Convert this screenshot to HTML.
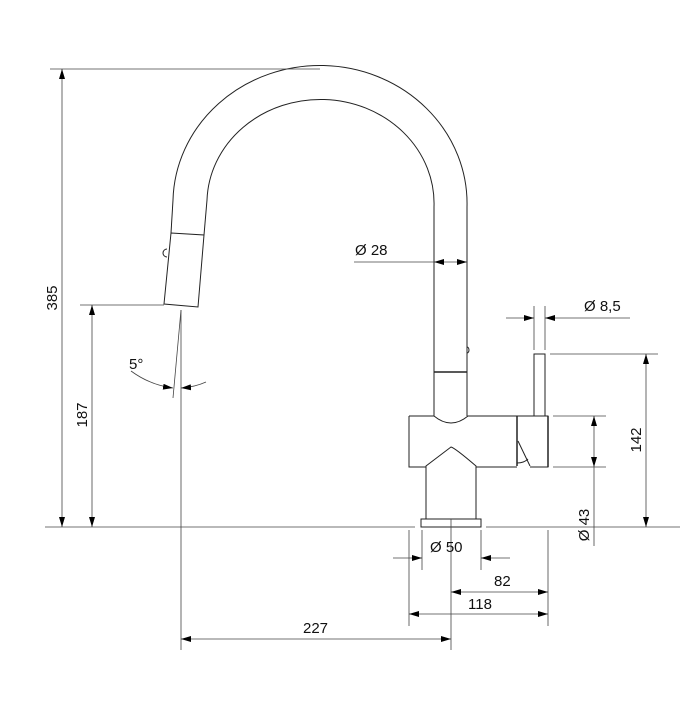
<!DOCTYPE html>
<html><head><style>
html,body{margin:0;padding:0;background:#fff;}
svg{display:block;}
text{font-family:"Liberation Sans",sans-serif;font-size:15px;fill:#111;}
</style></head><body>
<svg width="696" height="709" viewBox="0 0 696 709" xmlns="http://www.w3.org/2000/svg">
<defs>
<marker id="a" viewBox="0 0 10 6" refX="10" refY="3" markerWidth="10" markerHeight="6" orient="auto-start-reverse" markerUnits="userSpaceOnUse"><path d="M0,0 L10,3 L0,6 z" fill="#000"/></marker>
</defs>
<g fill="none" stroke="#222" stroke-width="1">
<path d="M173,200 A147,138 0 0 1 467,207 L467,416"/>
<path d="M207,200 A113.5,104 0 0 1 434,207 L434,416"/>
<path d="M173,200 L171,233"/><path d="M207,200 L204,235"/>
<path d="M171,233 L204,235 L198,307 L164,304 Z"/>
<path d="M167,249 A4,4 0 0 0 167,257"/>
<line x1="434" y1="372" x2="467" y2="372" stroke-width="1.5"/>
<path d="M467,347 A2,3 0 0 1 467,353"/>
<path d="M409,416 L434,416 Q451,430 468,416 L548,416 L548,467 L530,467"/>
<path d="M409,416 L409,467 L426,467"/>
<path d="M426,519 L426,466 L451,447 Q455,448 476,466 L476,467 L517,467"/>
<line x1="476" y1="466" x2="476" y2="519"/>
<line x1="517" y1="416" x2="517" y2="466" stroke-width="1.5"/>
<line x1="518" y1="441" x2="530" y2="466"/>
<path d="M517,463 Q524,463 528,459"/>
<line x1="548" y1="416" x2="548" y2="467" stroke-width="1.5"/>
<rect x="421" y="519" width="60" height="8"/>
<rect x="534" y="354" width="11" height="62"/>
</g>
<g fill="none" stroke="#444" stroke-width="0.8">
<line x1="45" y1="527" x2="415" y2="527"/>
<line x1="486" y1="527" x2="680" y2="527"/>
<line x1="181" y1="310" x2="181" y2="650"/>
<line x1="181" y1="310" x2="173" y2="398"/>
<line x1="451" y1="519" x2="451" y2="650"/>
<line x1="50" y1="69" x2="320" y2="69"/>
<line x1="62" y1="69" x2="62" y2="527" marker-start="url(#a)" marker-end="url(#a)"/>
<line x1="80" y1="305" x2="164" y2="305"/>
<line x1="92" y1="305" x2="92" y2="527" marker-start="url(#a)" marker-end="url(#a)"/>
<path d="M131,371 Q150,385 173,388" marker-end="url(#a)"/>
<path d="M206,382 Q195,387 181,388" marker-end="url(#a)"/>
<line x1="354" y1="262" x2="434" y2="262"/>
<line x1="434" y1="262" x2="467" y2="262" marker-start="url(#a)" marker-end="url(#a)"/>
<line x1="534" y1="306" x2="534" y2="350"/>
<line x1="545" y1="306" x2="545" y2="350"/>
<line x1="506" y1="318" x2="534" y2="318" marker-end="url(#a)"/>
<line x1="630" y1="318" x2="545" y2="318" marker-end="url(#a)"/>
<line x1="550" y1="354" x2="658" y2="354"/>
<line x1="646" y1="354" x2="646" y2="527" marker-start="url(#a)" marker-end="url(#a)"/>
<line x1="553" y1="416" x2="606" y2="416"/>
<line x1="553" y1="467" x2="606" y2="467"/>
<line x1="594" y1="416" x2="594" y2="467" marker-start="url(#a)" marker-end="url(#a)"/>
<line x1="594" y1="467" x2="594" y2="546"/>
<line x1="422" y1="530" x2="422" y2="570"/>
<line x1="481" y1="530" x2="481" y2="570"/>
<line x1="393" y1="558" x2="422" y2="558" marker-end="url(#a)"/>
<line x1="510" y1="558" x2="481" y2="558" marker-end="url(#a)"/>
<line x1="409" y1="530" x2="409" y2="626"/>
<line x1="548" y1="530" x2="548" y2="626"/>
<line x1="451" y1="592" x2="548" y2="592" marker-start="url(#a)" marker-end="url(#a)"/>
<line x1="409" y1="614" x2="548" y2="614" marker-start="url(#a)" marker-end="url(#a)"/>
<line x1="181" y1="639" x2="451" y2="639" marker-start="url(#a)" marker-end="url(#a)"/>
</g>
<text x="355" y="255">Ø 28</text>
<text x="584" y="311">Ø 8,5</text>
<text x="129" y="369">5°</text>
<text x="430" y="552">Ø 50</text>
<text x="494" y="586">82</text>
<text x="468" y="609">118</text>
<text x="303" y="633">227</text>
<text transform="translate(57,298) rotate(-90)" text-anchor="middle">385</text>
<text transform="translate(87,415) rotate(-90)" text-anchor="middle">187</text>
<text transform="translate(641,440) rotate(-90)" text-anchor="middle">142</text>
<text transform="translate(589,525) rotate(-90)" text-anchor="middle">Ø 43</text>
</svg>
</body></html>
